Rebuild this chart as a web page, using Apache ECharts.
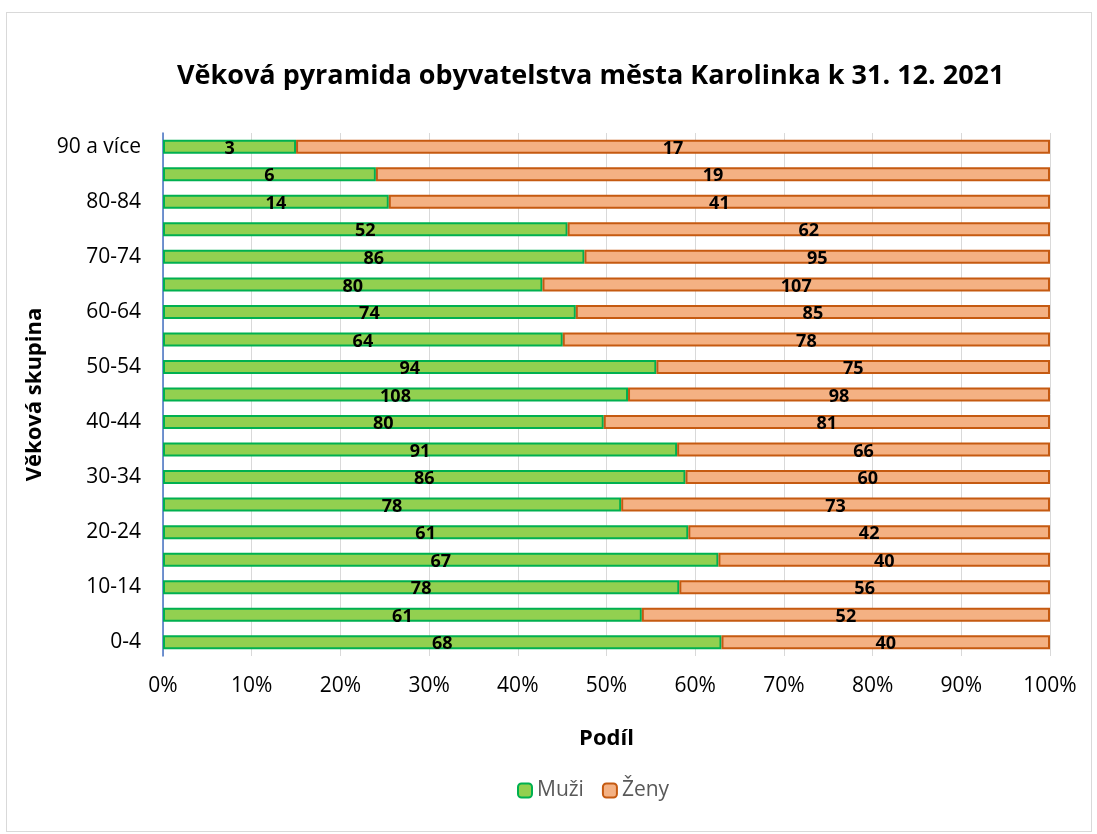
<!DOCTYPE html>
<html>
<head>
<meta charset="utf-8">
<script src="https://cdn.jsdelivr.net/npm/echarts@6/dist/echarts.min.js"></script>
<style>
html, body { margin: 0; padding: 0; background: #fff; }
#frame { position: absolute; left: 6px; top: 12px; width: 1084px; height: 818px; border: 1px solid #d9d9d9; }
#chart { width: 1097px; height: 834px; }
</style>
</head>
<body>
<div id="frame"></div>
<div id="chart"></div>
<script>
var ageGroups = ["0-4", "5-9", "10-14", "15-19", "20-24", "25-29", "30-34", "35-39", "40-44", "45-49",
    "50-54", "55-59", "60-64", "65-69", "70-74", "75-79", "80-84", "85-89", "90 a více"];
var men = [68, 61, 78, 67, 61, 78, 86, 91, 80, 108, 94, 64, 74, 80, 86, 52, 14, 6, 3];
var women = [40, 52, 56, 40, 42, 73, 60, 66, 81, 98, 75, 78, 85, 107, 95, 62, 41, 19, 17];

var font = "'Open Sans', sans-serif";

function share(arr, i) {
    return arr[i] / (men[i] + women[i]) * 100;
}
var menPct = men.map(function (v, i) { return { value: share(men, i), count: v }; });
var womenPct = women.map(function (v, i) { return { value: share(women, i), count: v }; });

var label = {
    show: true,
    position: "inside",
    offset: [0, 2],
    color: "#000",
    fontWeight: "bold",
    fontSize: 18,
    fontFamily: font,
    formatter: function (p) { return p.data.count; }
};

var dom = document.getElementById("chart");
var myChart = echarts.init(dom);
option = {
    backgroundColor: "transparent",
    title: {
        text: "Věková pyramida obyvatelstva města Karolinka k 31. 12. 2021",
        left: 172,
        top: 58,
        textStyle: { fontFamily: font, fontSize: 27, fontWeight: "bold", color: "#000" }
    },
    legend: {
        top: 775,
        left: 512,
        itemWidth: 14,
        itemHeight: 14,
        itemGap: 18,
        textStyle: { fontFamily: font, fontSize: 21, color: "#595959" },
        data: ["Muži", "Ženy"]
    },
    grid: { left: 163, right: 47, top: 133, bottom: 178 },
    xAxis: {
        type: "value",
        min: 0,
        max: 100,
        interval: 10,
        name: "Podíl",
        nameLocation: "middle",
        nameGap: 72,
        nameTextStyle: { fontFamily: font, fontSize: 22, fontWeight: "bold", color: "#000" },
        axisLabel: { formatter: "{value}%", fontFamily: font, fontSize: 21, color: "#000", margin: 20 },
        axisLine: { show: false },
        axisTick: { show: false },
        splitLine: { lineStyle: { color: "#d9d9d9", width: 1 } }
    },
    yAxis: {
        type: "category",
        data: ageGroups,
        name: "Věková skupina",
        nameLocation: "middle",
        nameGap: 116,
        nameRotate: 90,
        nameTextStyle: { fontFamily: font, fontSize: 22, fontWeight: "bold", color: "#000" },
        axisLabel: { interval: 1, fontFamily: font, fontSize: 21, color: "#000", margin: 22 },
        axisLine: { lineStyle: { color: "#4472C4", width: 1.5 } },
        axisTick: { show: false }
    },
    series: [
        {
            name: "Muži",
            type: "bar",
            stack: "total",
            barWidth: 14,
            data: menPct,
            label: label,
            itemStyle: { color: "#92D050", borderColor: "#00B050", borderWidth: 2 }
        },
        {
            name: "Ženy",
            type: "bar",
            stack: "total",
            barWidth: 14,
            data: womenPct,
            label: label,
            itemStyle: { color: "#F4B183", borderColor: "#C55A11", borderWidth: 2 }
        }
    ]
};
if (option && typeof option === "object") {
    myChart.setOption(option, true);
}
</script>
</body>
</html>
